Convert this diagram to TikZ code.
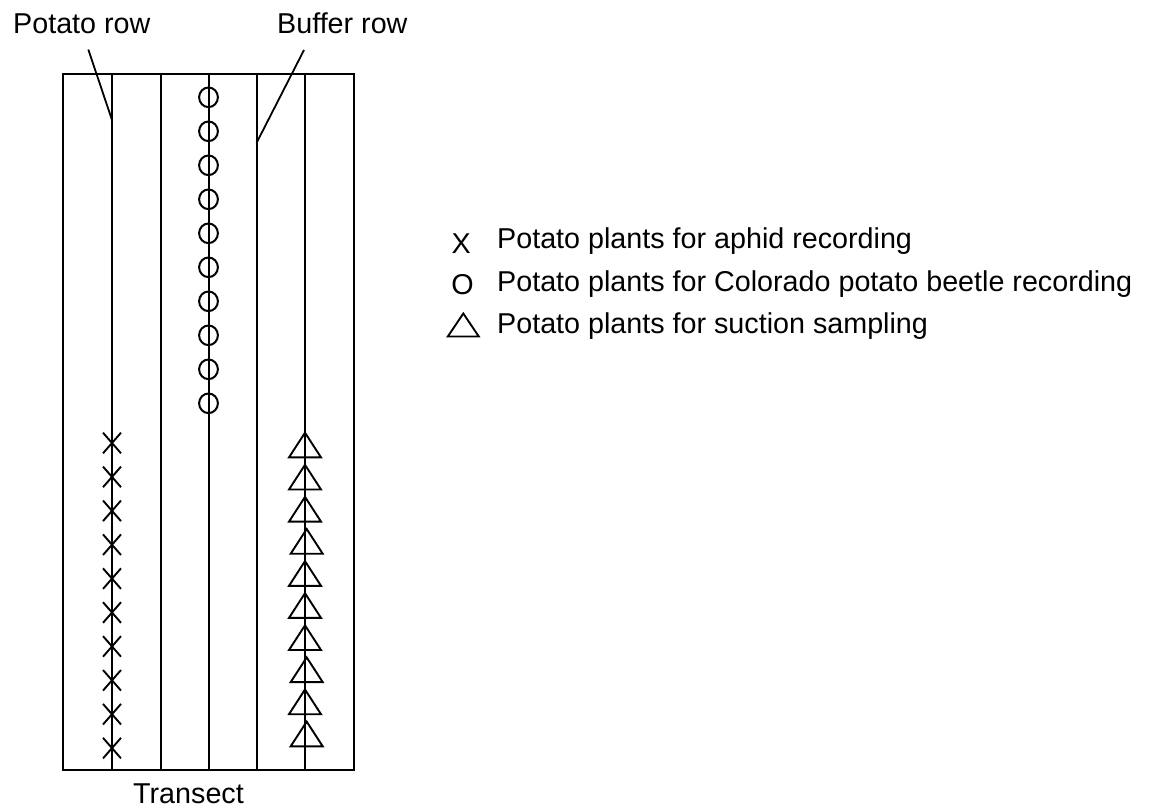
\documentclass[tikz,border=0pt]{standalone}
\usepackage{fontspec}
\setmainfont{Liberation Sans}
\usetikzlibrary{shapes.geometric,calc}
\begin{document}
\begin{tikzpicture}[x=1pt,y=-1pt]
\tikzset{
  lbl/.style={font=\fontsize{28.7}{34}\selectfont, inner sep=0pt, text=black},
  frame/.style={draw, line width=2pt},
  rowline/.style={line width=2pt},
  leader/.style={line width=1.8pt},
  sym/.style={line width=1.9pt},
}
\useasboundingbox (0,0) rectangle (1154,807);
\fill[white] (0,0) rectangle (1154,807);

% field
\node[frame, anchor=north west, minimum width=291pt, minimum height=696pt, inner sep=0pt] (field) at (62,73) {};
\foreach \i/\x in {1/112,2/160.5,3/208.5,4/256.5,5/304.5}{
  \coordinate (t\i) at (\x,73);
  \coordinate (b\i) at (\x,769);
  \draw[rowline] (t\i) -- (b\i);
}

% circles (Colorado potato beetle)
\foreach \k in {0,...,9}{
  \node[sym, line width=2pt, draw, ellipse, minimum width=18.8pt, minimum height=19.6pt, inner sep=0pt] (c\k) at (208.5,{97.3+34*\k}) {};
}
% crosses (aphids)
\foreach \k in {0,...,9}{
  \coordinate (x\k) at (112,{443+33.9*\k});
  \draw[sym] ($(x\k)+(-9,-10.3)$) -- ($(x\k)+(9,10.3)$);
  \draw[sym] ($(x\k)+(-9,10.3)$) -- ($(x\k)+(9,-10.3)$);
}
% triangles (suction sampling)
\foreach \k/\dx in {0/0,1/0,2/0,3/1.7,4/0,5/0,6/0,7/1.7,8/0,9/1.7}{
  \coordinate (tr\k) at ({305+\dx},{432.7+32.1*\k});
  \draw[sym, line join=miter] (tr\k) -- ++(16,24.7) -- ++(-32,0) -- cycle;
}

% labels and leaders
\node[lbl, anchor=base west] (plab) at (13,33) {Potato row};
\node[lbl, anchor=base west] (blab) at (277,33) {Buffer row};
\coordinate (pl1) at (88.3,49.5);
\coordinate (pl2) at (112,120);
\coordinate (bl1) at (304,50);
\coordinate (bl2) at (256.5,143);
\draw[leader] (pl1) -- (pl2);
\draw[leader] (bl1) -- (bl2);

\node[lbl, anchor=base] (tran) at (188.5,803) {Transect};

% legend
\node[lbl, anchor=base] (lx) at (461.3,253) {X};
\node[lbl, anchor=base west] (l1) at (497,248) {Potato plants for aphid recording};
\node[lbl, anchor=base] (lo) at (462.5,294.5) {O};
\node[lbl, anchor=base west] (l2) at (497,291.5) {Potato plants for Colorado potato beetle recording};
\coordinate (lt) at (463.3,313.5);
\draw[sym, line join=miter] (lt) -- ++(15.5,23) -- ++(-31,0) -- cycle;
\node[lbl, anchor=base west] (l3) at (497,333) {Potato plants for suction sampling};
\end{tikzpicture}
\end{document}
